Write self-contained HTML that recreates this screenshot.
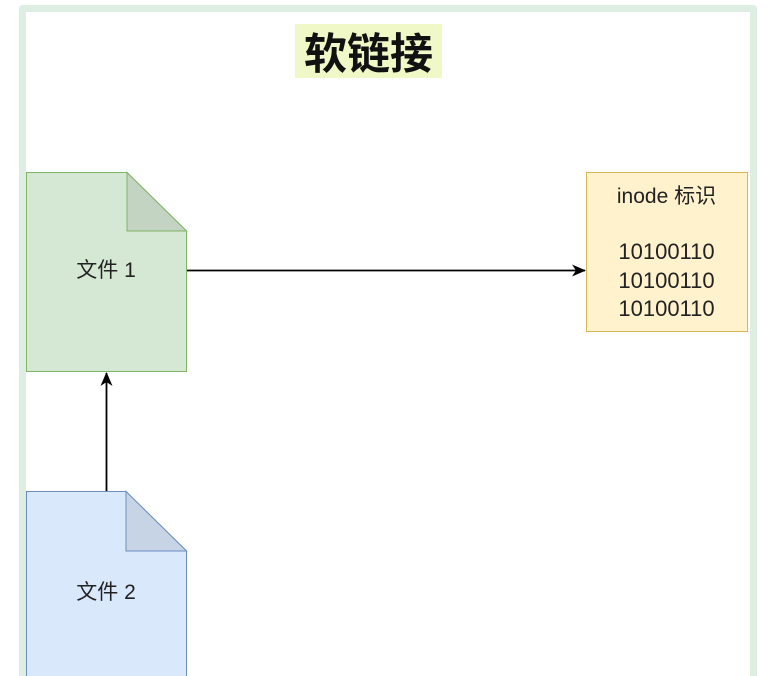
<!DOCTYPE html>
<html><head><meta charset="utf-8"><style>
html,body{margin:0;padding:0;background:#fff;width:772px;height:676px;overflow:hidden}
body{position:relative;font-family:"Liberation Sans","Noto Sans CJK SC",sans-serif}
.frame{position:absolute;left:19px;top:5px;width:738px;height:700px;border:7px solid #deeee3;border-radius:4px;box-sizing:border-box;border-bottom:none}
.title{position:absolute;left:295px;top:24px;width:147px;height:54px;background:#eff8c6;font-weight:bold;font-size:43px;line-height:54px;text-align:center;color:#111;font-family:"Noto Sans CJK SC",sans-serif}
.t{position:absolute;font-size:21px;color:#222;text-align:center}
</style></head><body>
<div class="frame"></div>
<div class="title">软链接</div>
<svg width="772" height="676" style="position:absolute;left:0;top:0">
<defs><marker id="a" markerWidth="14" markerHeight="14" refX="13" refY="7" orient="auto" markerUnits="userSpaceOnUse"><path d="M0,1 L14,7 L0,13 L4,7 z" fill="#000"/></marker></defs>
<path d="M26.5,172.5 H127 L186.5,231 V371.5 H26.5 Z" fill="#d5e8d4" stroke="#82b366"/>
<path d="M127,172.5 V231 H186.5 Z" fill="#c3d5c2" stroke="#82b366"/>
<path d="M26.5,491.5 H126 L186.5,551 V690 H26.5 Z" fill="#dae8fc" stroke="#6c8ebf"/>
<path d="M126,491.5 V551 H186.5 Z" fill="#c6d4e6" stroke="#6c8ebf"/>
<rect x="586.5" y="172.5" width="161" height="159" fill="#fff2cc" stroke="#d6b656"/>
<line x1="187" y1="270.5" x2="585" y2="270.5" stroke="#000" stroke-width="1.8" marker-end="url(#a)"/>
<line x1="106.5" y1="491" x2="106.5" y2="373" stroke="#000" stroke-width="1.8" marker-end="url(#a)"/>
</svg>
<div class="t" style="left:26px;width:160px;top:258px;line-height:26px">文件 1</div>
<div class="t" style="left:26px;width:160px;top:580px;line-height:26px">文件 2</div>
<div class="t" style="left:586px;width:161px;top:183px;line-height:27.5px">inode 标识<br><br><span style="font-size:22px">10100110<br>10100110<br>10100110</span></div>
</body></html>
